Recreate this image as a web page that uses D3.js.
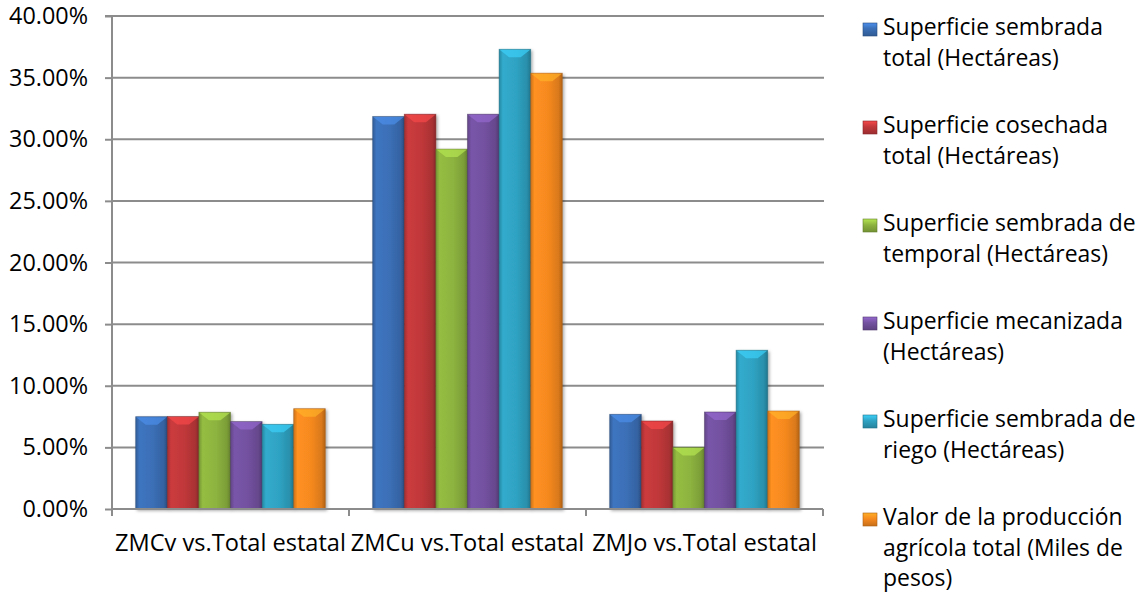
<!DOCTYPE html>
<html>
<head>
<meta charset="utf-8">
<script src="https://cdn.jsdelivr.net/npm/d3@7"></script>
<style>
  html, body { margin: 0; padding: 0; background: #ffffff; }
  svg { display: block; }
  text { font-family: "Open Sans", Lato, sans-serif; fill: #000; }
</style>
</head>
<body>
<svg id="chart" width="1139" height="592"></svg>
<script>
const categories = ["ZMCv vs.Total estatal", "ZMCu vs.Total estatal", "ZMJo vs.Total estatal"];
const seriesNames = [
  ["Superficie sembrada", "total (Hectáreas)"],
  ["Superficie cosechada", "total (Hectáreas)"],
  ["Superficie sembrada de", "temporal (Hectáreas)"],
  ["Superficie mecanizada", "(Hectáreas)"],
  ["Superficie sembrada de", "riego (Hectáreas)"],
  ["Valor de la producción", "agrícola total (Miles de", "pesos)"]
];
const sembradaTotal   = [7.49, 31.84, 7.68];
const cosechadaTotal  = [7.50, 32.03, 7.14];
const sembradaTemporal= [7.85, 29.20, 5.00];
const mecanizada      = [7.09, 32.03, 7.87];
const sembradaRiego   = [6.87, 37.30, 12.88];
const valorProduccion = [8.14, 35.36, 7.95];
const seriesValues = [sembradaTotal, cosechadaTotal, sembradaTemporal, mecanizada, sembradaRiego, valorProduccion];
const colors = ["#3b6fb6", "#c0383a", "#8db33f", "#7351a0", "#2fa2c2", "#f6891f"];
const yTicks = [0, 5, 10, 15, 20, 25, 30, 35, 40];

const svg = d3.select("#chart");
const defs = svg.append("defs");

// Font size fitted to the reference text widths
function fitSize(str, target) {
  const t = svg.append("text").attr("font-size", 100).text(str);
  const len = t.node().getComputedTextLength();
  t.remove();
  return target / len * 100;
}
const legendSize = fitSize("Superficie sembrada", 220);
const catSize = fitSize("ZMCv vs.Total estatal", 231);
const tickSize = fitSize("40.00%", 79);

const pL = 112, pR = 823, pT = 16, pB = 509;
const x0 = d3.scaleBand().domain(categories).range([pL, pR]).padding(0);
const bw = x0.bandwidth();
const x1 = d3.scaleBand().domain(d3.range(seriesValues.length)).range([bw * 0.1, bw * 0.9]).padding(0);
const y = d3.scaleLinear().domain([0, 40]).range([pB, pT]);

// Gradients
colors.forEach((c, i) => {
  const g = defs.append("linearGradient").attr("id", "grad" + i)
    .attr("x1", "0%").attr("x2", "100%").attr("y1", "0%").attr("y2", "0%");
  const base = d3.color(c);
  g.append("stop").attr("offset", "0%").attr("stop-color", base.darker(0.5));
  g.append("stop").attr("offset", "12%").attr("stop-color", base.brighter(0.15));
  g.append("stop").attr("offset", "55%").attr("stop-color", base);
  g.append("stop").attr("offset", "88%").attr("stop-color", base.darker(0.35));
  g.append("stop").attr("offset", "100%").attr("stop-color", base.darker(0.9));
});
const f = defs.append("filter").attr("id", "shadow").attr("x", "-20%").attr("y", "-20%").attr("width", "140%").attr("height", "140%");
f.append("feDropShadow").attr("dx", 1.5).attr("dy", 1.5).attr("stdDeviation", 1.8).attr("flood-color", "#000").attr("flood-opacity", 0.35);

// Gridlines
svg.append("g").selectAll("line").data(yTicks.filter(d => d > 0)).join("line")
  .attr("x1", pL).attr("x2", pR + 1)
  .attr("y1", d => y(d)).attr("y2", d => y(d))
  .attr("stroke", "#8c8c8c").attr("stroke-width", 2);

// Y axis
const yAxis = d3.axisLeft(y).tickValues(yTicks).tickSize(7).tickPadding(17)
  .tickFormat(d => d.toFixed(2) + "%");
const gy = svg.append("g").attr("transform", `translate(${pL},0)`).call(yAxis);
gy.select(".domain").attr("stroke", "#8c8c8c").attr("stroke-width", 2).attr("d", `M-7,${pT}H0V${pB}`);
gy.selectAll(".tick line").attr("stroke", "#8c8c8c").attr("stroke-width", 2);
gy.selectAll(".tick text").style("font-family", "'Open Sans', Lato, sans-serif").attr("font-size", tickSize).attr("fill", "#000");

// Bars
const groups = svg.append("g").selectAll("g").data(categories).join("g")
  .attr("transform", d => `translate(${x0(d)},0)`);
groups.each(function(cat, ci) {
  const g = d3.select(this);
  seriesValues.forEach((vals, si) => {
    const v = vals[ci];
    const bx = x1(si), w = x1.bandwidth();
    const by = y(v), h = y(0) - y(v);
    g.append("rect").attr("x", bx).attr("y", by).attr("width", w).attr("height", h)
      .attr("fill", `url(#grad${si})`).attr("filter", "url(#shadow)")
      .attr("stroke", d3.color(colors[si]).darker(1.2)).attr("stroke-width", 0.8).attr("stroke-opacity", 0.6);
    const b = Math.min(10, w * 0.32), bh = Math.min(8, h);
    g.append("path")
      .attr("d", `M${bx + 0.5},${by + 0.5}L${bx + w - 0.5},${by + 0.5}L${bx + w - b},${by + bh}L${bx + b},${by + bh}Z`)
      .attr("fill", d3.color(colors[si]).brighter(0.7)).attr("opacity", 0.7);
  });
});

// X axis
const gx = svg.append("g").attr("transform", `translate(0,${pB})`);
gx.append("line").attr("x1", pL).attr("x2", pR).attr("y1", 0).attr("y2", 0)
  .attr("stroke", "#8c8c8c").attr("stroke-width", 2);
const xTickPos = categories.map(c => x0(c)).concat([pR]);
gx.selectAll("line.t").data(xTickPos).join("line").attr("class", "t")
  .attr("x1", d => d).attr("x2", d => d).attr("y1", 0).attr("y2", 7)
  .attr("stroke", "#8c8c8c").attr("stroke-width", 2);
gx.selectAll("text").data(categories).join("text")
  .attr("x", d => x0(d) + bw / 2).attr("y", 42)
  .attr("text-anchor", "middle").attr("font-size", catSize).text(d => d);

// Legend
const lg = svg.append("g");
seriesNames.forEach((lines, i) => {
  const base = 35 + 98 * i;
  const mg = defs.append("linearGradient").attr("id", "lgrad" + i)
    .attr("x1", "0%").attr("x2", "0%").attr("y1", "0%").attr("y2", "100%");
  mg.append("stop").attr("offset", "0%").attr("stop-color", d3.color(colors[i]).brighter(0.7));
  mg.append("stop").attr("offset", "45%").attr("stop-color", colors[i]);
  mg.append("stop").attr("offset", "100%").attr("stop-color", d3.color(colors[i]).darker(0.6));
  lg.append("rect").attr("x", 863).attr("y", base - 12).attr("width", 14).attr("height", 13)
    .attr("fill", `url(#lgrad${i})`).attr("stroke", d3.color(colors[i]).darker(1)).attr("stroke-width", 0.6);
  lines.forEach((t, li) => {
    lg.append("text").attr("x", 883).attr("y", base + li * 30.5).attr("font-size", legendSize).text(t);
  });
});
</script>
</body>
</html>
